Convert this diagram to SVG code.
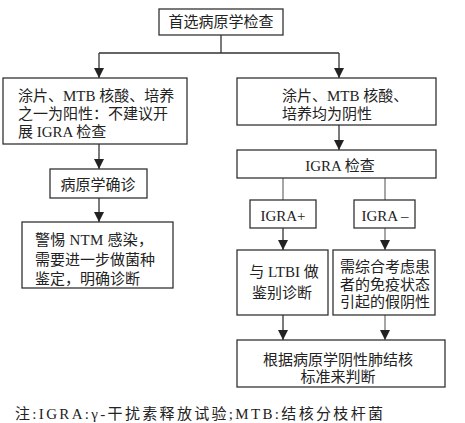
<svg xmlns="http://www.w3.org/2000/svg" width="465" height="423" viewBox="0 0 465 423">
<style>
.box{fill:#fff;stroke:#333;stroke-width:1.3}
.t{font-family:"Liberation Serif","Noto Sans CJK SC",serif;font-size:15px;fill:#222}
.c{text-anchor:middle}
.ln{stroke:#333;stroke-width:1.3;fill:none}
.lg{stroke:#777;stroke-width:1.3;fill:none}
</style>
<defs>
<marker id="ah" markerWidth="10" markerHeight="10" refX="10" refY="5" orient="auto" markerUnits="userSpaceOnUse" viewBox="0 0 10 10">
<path d="M0,0 L10,5 L0,10 Z" fill="#222"/>
</marker>
</defs>
<rect width="465" height="423" fill="#fff"/>
<g id="connectors">
<path class="ln" d="M221,35 V53 M99,53 H339"/>
<path class="ln" d="M99,53 V78" marker-end="url(#ah)"/>
<path class="ln" d="M339,53 V78" marker-end="url(#ah)"/>
<path class="ln" d="M339,125 V150" marker-end="url(#ah)"/>
<path class="ln" d="M99,144 V169" marker-end="url(#ah)"/>
<path class="ln" d="M99,198 V222" marker-end="url(#ah)"/>
<path class="lg" d="M283,178 V200 M385,178 V200"/>
<path class="ln" d="M283,228 V250" marker-end="url(#ah)"/>
<path class="lg" d="M385,228 V250" marker-end="url(#ah)"/>
<path class="ln" d="M283,315 V340" marker-end="url(#ah)"/>
<path class="lg" d="M385,315 V340" marker-end="url(#ah)"/>
</g>
<g id="n1"><rect class="box" x="159" y="9" width="124" height="26"/><text class="t c" x="221" y="27">首选病原学检查</text></g>
<g id="n2"><rect class="box" x="3" y="78" width="184" height="66"/>
<text class="t" x="18" y="101">涂片、MTB 核酸、培养</text>
<text class="t" x="18" y="119">之一为阳性：不建议开</text>
<text class="t" x="18" y="137">展 IGRA 检查</text></g>
<g id="n3"><rect class="box" x="237" y="78" width="199" height="47"/>
<text class="t" x="282" y="101">涂片、MTB 核酸、</text>
<text class="t" x="282" y="119">培养均为阴性</text></g>
<g id="n4"><rect class="box" x="237" y="150" width="199" height="28"/><text class="t c" x="340" y="171">IGRA 检查</text></g>
<g id="n5"><rect class="box" x="50" y="169" width="97" height="29"/><text class="t c" x="98" y="190">病原学确诊</text></g>
<g id="n6"><rect class="box" x="22" y="222" width="151" height="66"/>
<text class="t" x="35" y="245" textLength="118">警惕 NTM 感染，</text>
<text class="t" x="35" y="265">需要进一步做菌种</text>
<text class="t" x="35" y="284">鉴定，明确诊断</text></g>
<g id="n7"><rect class="box" x="250" y="200" width="66" height="28"/><text class="t c" x="283" y="221">IGRA+</text></g>
<g id="n8"><rect class="box" x="354" y="200" width="61" height="28"/><text class="t c" x="385" y="221">IGRA –</text></g>
<g id="n9"><rect class="box" x="237" y="250" width="91" height="65"/>
<text class="t c" x="284" y="277">与 LTBI 做</text>
<text class="t c" x="282" y="298">鉴别诊断</text></g>
<g id="n10"><rect class="box" x="333" y="250" width="102" height="65"/>
<text class="t c" x="385" y="272">需综合考虑患</text>
<text class="t c" x="385" y="290">者的免疫状态</text>
<text class="t c" x="385" y="307">引起的假阴性</text></g>
<g id="n11"><rect class="box" x="237" y="340" width="208" height="47"/>
<text class="t c" x="338" y="365">根据病原学阴性肺结核</text>
<text class="t c" x="338" y="382">标准来判断</text></g>
<text class="t" x="15" y="419" textLength="368" lengthAdjust="spacing">注:IGRA:γ-干扰素释放试验;MTB:结核分枝杆菌</text>
</svg>
